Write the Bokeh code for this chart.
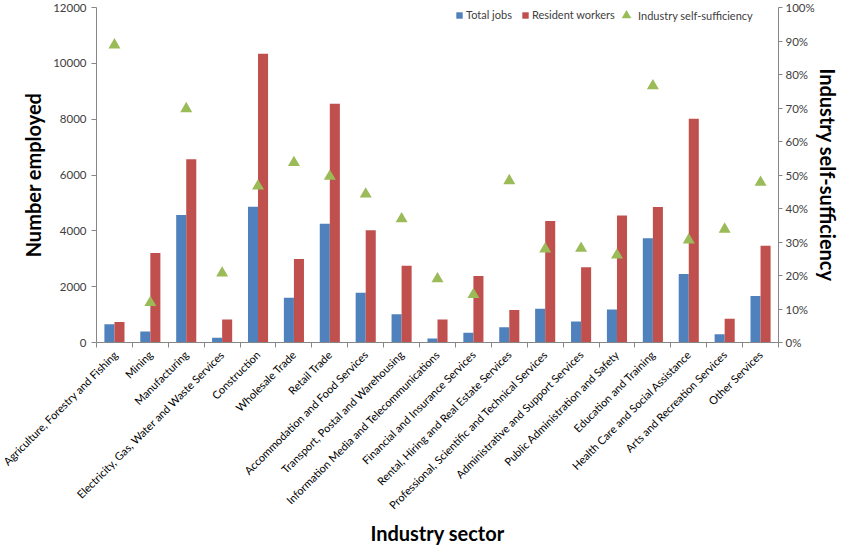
from bokeh.plotting import figure
from bokeh.models import (Range1d, LinearAxis, FixedTicker, SingleIntervalTicker,
                          NumeralTickFormatter, Legend, LegendItem, ColumnDataSource)
from bokeh.embed import file_html
from bokeh.resources import INLINE
import math

# Employment by industry sector
sectors = [
    "Agriculture, Forestry and Fishing",
    "Mining",
    "Manufacturing",
    "Electricity, Gas, Water and Waste Services",
    "Construction",
    "Wholesale Trade",
    "Retail Trade",
    "Accommodation and Food Services",
    "Transport, Postal and Warehousing",
    "Information Media and Telecommunications",
    "Financial and Insurance Services",
    "Rental, Hiring and Real Estate Services",
    "Professional, Scientific and Technical Services",
    "Administrative and Support Services",
    "Public Administration and Safety",
    "Education and Training",
    "Health Care and Social Assistance",
    "Arts and Recreation Services",
    "Other Services",
]
total_jobs = [650, 395, 4570, 170, 4860, 1600, 4250, 1780, 1015, 145, 345, 550,
              1205, 750, 1180, 3735, 2455, 300, 1670]
resident_workers = [730, 3210, 6560, 825, 10340, 2995, 8555, 4020, 2745, 825, 2385,
                    1160, 4355, 2695, 4545, 4855, 8015, 850, 3470]
self_sufficiency = [0.888, 0.119, 0.698, 0.207, 0.467, 0.537, 0.496, 0.443, 0.369,
                    0.190, 0.143, 0.483, 0.279, 0.281, 0.261, 0.766, 0.306, 0.338, 0.478]

FONT = "Lato"
AXIS_GREY = "#868686"
TEXT_GREY = "#404040"

n = len(sectors)
centers = list(range(1, n + 1))
src = ColumnDataSource(dict(
    x=centers,
    x_jobs=[c - 0.14 for c in centers],
    x_res=[c + 0.14 for c in centers],
    jobs=total_jobs,
    res=resident_workers,
    pct=self_sufficiency,
))

p = figure(width=842, height=548, output_backend="svg", toolbar_location=None,
           x_range=Range1d(0.5, n + 0.5), y_range=Range1d(0, 12000),
           min_border_left=96, min_border_right=56, min_border_top=7,
           min_border_bottom=206)
p.extra_y_ranges = {"pct": Range1d(0, 1)}
p.grid.visible = False
p.outline_line_color = None
p.background_fill_color = "white"
p.border_fill_color = "white"

r_jobs = p.vbar(x="x_jobs", top="jobs", width=0.28, source=src,
                fill_color="#4F81BD", line_color=None)
r_res = p.vbar(x="x_res", top="res", width=0.28, source=src,
               fill_color="#C0504D", line_color=None)
r_pct = p.scatter(x="x", y="pct", marker="triangle", size=12, source=src,
                  fill_color="#9BBB59", line_color=None, y_range_name="pct")

# Left axis: number employed
yax = p.yaxis[0]
yax.ticker = SingleIntervalTicker(interval=2000)
yax.axis_label = "Number employed"
yax.axis_label_text_font = FONT
yax.axis_label_text_font_style = "bold"
yax.axis_label_text_font_size = "20px"
yax.axis_label_text_color = "black"
yax.axis_label_standoff = 5
yax.major_label_text_font = FONT
yax.major_label_text_font_size = "11.5px"
yax.major_label_text_color = TEXT_GREY
yax.major_label_standoff = 5
yax.major_tick_out = 5
yax.major_tick_in = 0
yax.minor_tick_out = 0
yax.minor_tick_in = 0
yax.axis_line_color = AXIS_GREY
yax.major_tick_line_color = AXIS_GREY

# Right axis: self-sufficiency share
rax = LinearAxis(y_range_name="pct", ticker=FixedTicker(ticks=[i / 10 for i in range(11)]),
                 formatter=NumeralTickFormatter(format="0%"))
rax.axis_label = "Industry self-sufficiency"
rax.axis_label_text_font = FONT
rax.axis_label_text_font_style = "bold"
rax.axis_label_text_font_size = "20px"
rax.axis_label_text_color = "black"
rax.axis_label_standoff = -2
rax.major_label_text_font = FONT
rax.major_label_text_font_size = "11.5px"
rax.major_label_text_color = TEXT_GREY
rax.major_label_standoff = 3
rax.major_tick_out = 4
rax.major_tick_in = 0
rax.minor_tick_out = 0
rax.minor_tick_in = 0
rax.axis_line_color = AXIS_GREY
rax.major_tick_line_color = AXIS_GREY
p.add_layout(rax, "right")

# Bottom axis: labels at category centres, tick marks between categories
xax = p.xaxis[0]
xax.ticker = FixedTicker(ticks=centers, minor_ticks=[c + 0.5 for c in range(n + 1)])
xax.major_label_overrides = {c: s for c, s in zip(centers, sectors)}
xax.major_label_orientation = math.pi / 4
xax.major_label_text_font = FONT
xax.major_label_text_font_size = "11px"
xax.major_label_text_color = "black"
xax.major_label_standoff = 5
xax.major_tick_out = 0
xax.major_tick_in = 0
xax.minor_tick_out = 5
xax.minor_tick_in = 0
xax.minor_tick_line_color = AXIS_GREY
xax.axis_line_color = AXIS_GREY
xax.axis_label = "Industry sector"
xax.axis_label_text_font = FONT
xax.axis_label_text_font_style = "bold"
xax.axis_label_text_font_size = "20px"
xax.axis_label_text_color = "black"
xax.axis_label_standoff = 2


def style_legend(lg):
    lg.padding = 0
    lg.margin = 0
    lg.label_text_font = FONT
    lg.label_text_font_size = "11px"
    lg.label_text_color = TEXT_GREY
    lg.border_line_color = None
    lg.background_fill_alpha = 0


# Bar series legend
bar_legend = Legend(items=[
    LegendItem(label="Total jobs", renderers=[r_jobs]),
    LegendItem(label="Resident workers", renderers=[r_res]),
], orientation="horizontal", location=(359, 321))
style_legend(bar_legend)
bar_legend.glyph_width = 8
bar_legend.glyph_height = 8
bar_legend.label_height = 12
bar_legend.label_standoff = 3
bar_legend.spacing = 9
p.add_layout(bar_legend, "center")

# Marker series legend (larger glyph box so the triangle reads at full size)
pct_legend = Legend(items=[
    LegendItem(label="Industry self-sufficiency", renderers=[r_pct]),
], orientation="horizontal", location=(518, 315))
style_legend(pct_legend)
pct_legend.glyph_width = 24
pct_legend.glyph_height = 24
pct_legend.label_height = 12
pct_legend.label_standoff = -5
p.add_layout(pct_legend, "center")

open("out.html", "w").write(file_html(p, INLINE))
